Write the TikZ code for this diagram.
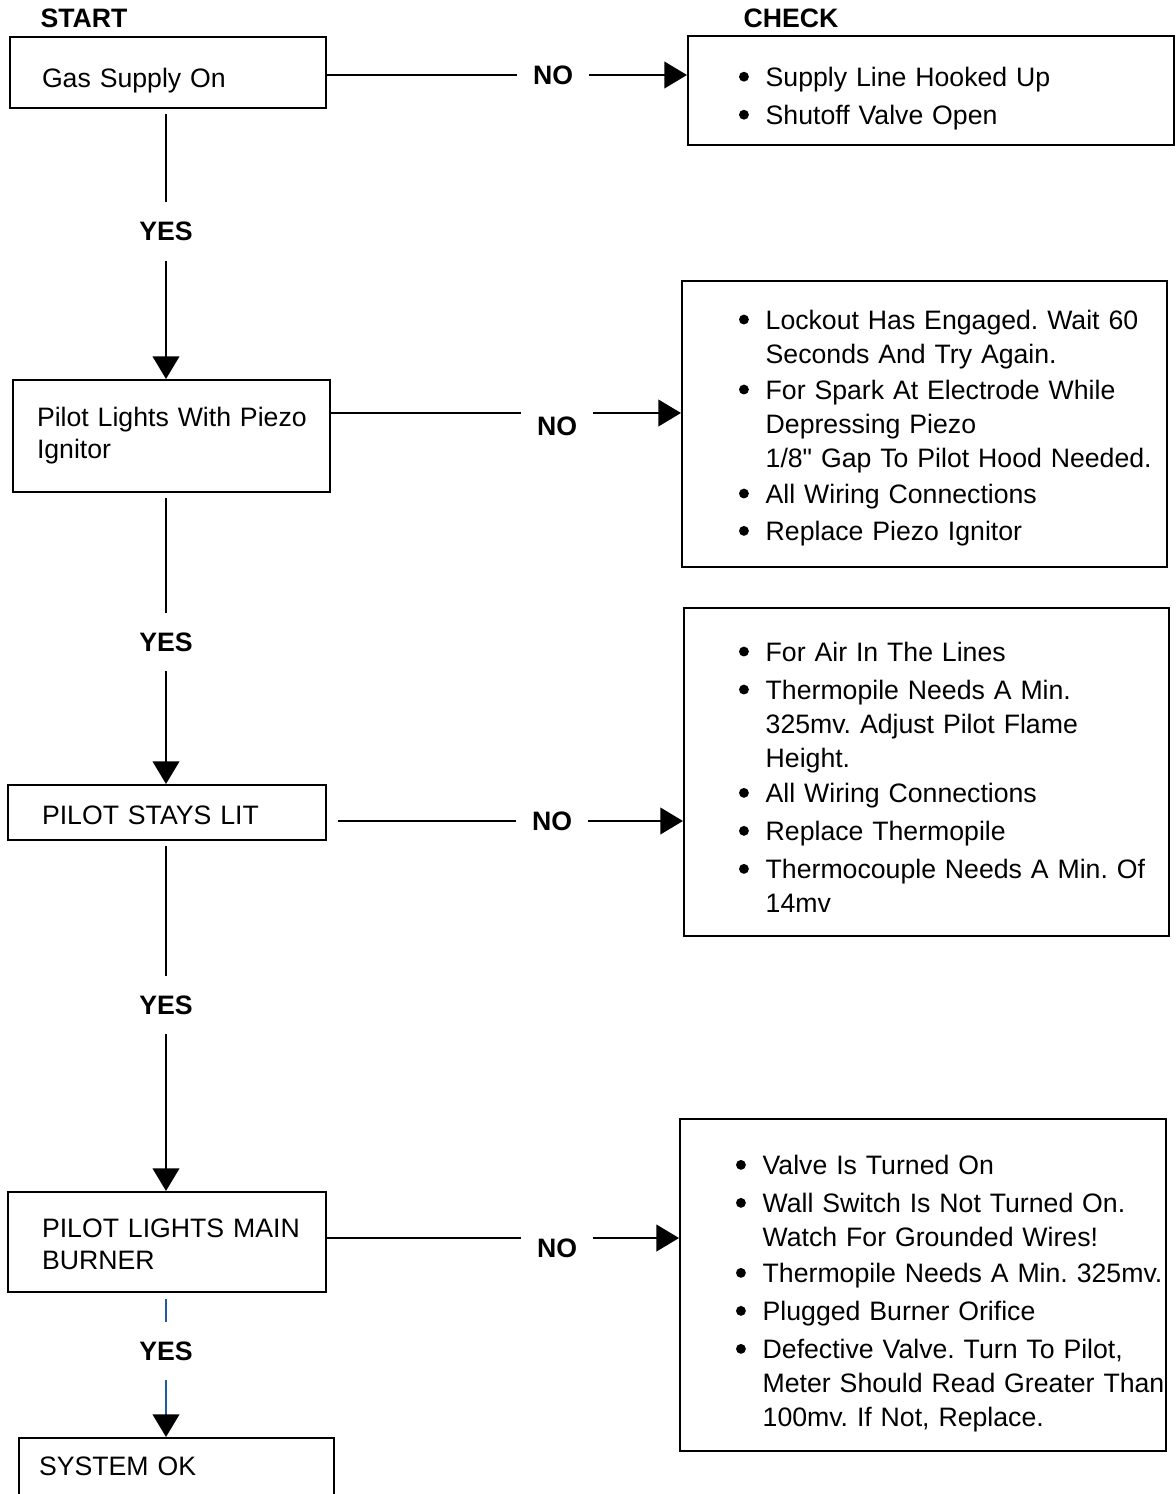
\documentclass[tikz,border=0pt]{standalone}
\usepackage{fontspec}
\setmainfont{Liberation Sans}[Ligatures=TeXOff]
\usepackage{array}
\usetikzlibrary{positioning,arrows.meta,calc}
\definecolor{black}{HTML}{000000}
\definecolor{wireblue}{HTML}{1F5AA6}
% text lowered inside its box, box size kept
\newcommand{\dropby}[2]{\raisebox{-#1}[\height][\depth]{#2}}
\newcommand{\dotmark}{\tikz[baseline=-7.2pt]\fill[black] (0,0) circle (3.7pt);}

\begin{document}
\frenchspacing
\begin{tikzpicture}[x=0.75pt, y=-0.75pt,
    font=\fontsize{20}{25.5}\selectfont,
    stepbox/.style={draw=black, line width=1.5pt, inner ysep=0pt, align=left,
      font=\fontsize{20}{24}\selectfont},
    checkbox/.style={draw=black, line width=1.5pt, inner ysep=0pt, align=left},
    heading/.style={font=\fontsize{20}{24}\selectfont\bfseries},
    answer/.style={font=\fontsize{20}{24}\selectfont\bfseries, inner xsep=12pt, inner ysep=14.5pt},
    wire/.style={black, line width=1.5pt},
    headarrow/.style={-{Triangle[length=17pt, width=20pt]}}]
        \useasboundingbox (0,0) rectangle (1176,1494);
        % Headings
        \node[heading] (start) at (84,18) {START};
        \node[heading] (check) at (791,18) {CHECK};
        % Steps on the left
        \node[stepbox, minimum height=53.25pt, text width=189pt, inner xsep=24pt]
          (gas) at (168,72.5) {\dropby{6pt}{Gas Supply On}};
        \node[stepbox, minimum height=84pt, text width=201.75pt, inner xsep=18pt]
          (pilot) at (171.5,436) {\begin{tabular}{@{}l@{}}
            Pilot Lights With Piezo\\Ignitor
          \end{tabular}};
        \node[stepbox, minimum height=41.25pt, text width=187.5pt, inner xsep=25.5pt]
          (stays) at (167,812.5) {\dropby{2pt}{PILOT STAYS LIT}};
        \node[stepbox, minimum height=75pt, text width=187.5pt, inner xsep=25.5pt]
          (mainb) at (167,1242) {\dropby{4pt}{\begin{tabular}{@{}l@{}}
            PILOT LIGHTS MAIN\\BURNER
          \end{tabular}}};
        \node[stepbox, minimum height=46.5pt, text width=206.25pt, inner xsep=15pt]
          (sysok) at (176.5,1469) {\dropby{-2pt}{SYSTEM OK}};
        % Checks on the right
        \node[checkbox, minimum height=81.75pt, text width=288pt, inner xsep=38.25pt]
          (chkA) at (931,90.5) {\dropby{6pt}{\begin{tabular}{@{}p{20pt}@{}l@{}}
            \dotmark & Supply Line Hooked Up\\[3pt]
            \dotmark & Shutoff Valve Open
          \end{tabular}}};
        \node[checkbox, minimum height=214.5pt, text width=278.25pt, inner xsep=42.75pt]
          (chkB) at (924.5,424) {\dropby{3pt}{\begin{tabular}{@{}p{20pt}@{}l@{}}
            \dotmark & Lockout Has Engaged. Wait 60\\
                     & Seconds And Try Again.\\[1.5pt]
            \dotmark & For Spark At Electrode While\\
                     & Depressing Piezo\\
                     & 1/8" Gap To Pilot Hood Needed.\\[1.5pt]
            \dotmark & All Wiring Connections\\[2.5pt]
            \dotmark & Replace Piezo Ignitor
          \end{tabular}}};
        \node[checkbox, minimum height=246pt, text width=281.25pt, inner xsep=41.25pt]
          (chkC) at (926.5,772) {\dropby{6pt}{\begin{tabular}{@{}p{20pt}@{}l@{}}
            \dotmark & For Air In The Lines\\[3pt]
            \dotmark & Thermopile Needs A Min.\\
                     & 325mv. Adjust Pilot Flame\\
                     & Height.\\[1pt]
            \dotmark & All Wiring Connections\\[3pt]
            \dotmark & Replace Thermopile\\[3pt]
            \dotmark & Thermocouple Needs A Min. Of\\
                     & 14mv
          \end{tabular}}};
        \node[checkbox, minimum height=249pt, text width=280.5pt, inner xsep=42pt]
          (chkD) at (923,1285) {\dropby{6.5pt}{\begin{tabular}{@{}p{20pt}@{}l@{}}
            \dotmark & Valve Is Turned On\\[3pt]
            \dotmark & Wall Switch Is Not Turned On.\\
                     & Watch For Grounded Wires!\\[1.5pt]
            \dotmark & Thermopile Needs A Min. 325mv.\\[3pt]
            \dotmark & Plugged Burner Orifice\\[3pt]
            \dotmark & Defective Valve. Turn To Pilot,\\
                     & Meter Should Read Greater Than\\
                     & 100mv. If Not, Replace.
          \end{tabular}}};
        % YES answers
        \node[answer] (yesA) at (166,231.5) {YES};
        \node[answer] (yesB) at (166,642) {YES};
        \node[answer] (yesC) at (166,1005) {YES};
        \node[answer] (yesD) at (166,1351) {YES};
        % NO answers
        \node[answer] (noA) at (553,75) {NO};
        \node[answer] (noB) at (557,426) {NO};
        \node[answer] (noC) at (552,821) {NO};
        \node[answer] (noD) at (557,1248) {NO};
        \coordinate (lnA) at (553,75);
        \coordinate (lnB) at (557,413);
        \coordinate (lnC) at (552,821);
        \coordinate (lnD) at (557,1238);
        % Down the left column
        \foreach \from/\ans/\to in {gas/yesA/pilot, pilot/yesB/stays, stays/yesC/mainb} {
          \draw[wire, shorten <=4pt] (\from.south -| \ans) -- (\ans.north);
          \draw[wire, headarrow] (\ans.south) -- (\to.north -| \ans);
        }
        \draw[wire, wireblue, shorten <=4.5pt] (mainb.south -| yesD) -- (yesD.north);
        \draw[wire, wireblue, -{Triangle[length=17pt, width=20pt, color=black]}]
          (yesD.south) -- (sysok.north -| yesD);
        % Across to the checks
        \draw[wire] (gas.east |- lnA) -- (noA.west |- lnA);
        \draw[wire, headarrow] (noA.east |- lnA) -- (chkA.west |- lnA);
        \draw[wire] (pilot.east |- lnB) -- (noB.west |- lnB);
        \draw[wire, headarrow] (noB.east |- lnB) -- (chkB.west |- lnB);
        \draw[wire, shorten <=8pt] (stays.east |- lnC) -- (noC.west |- lnC);
        \draw[wire, headarrow] (noC.east |- lnC) -- (chkC.west |- lnC);
        \draw[wire] (mainb.east |- lnD) -- (noD.west |- lnD);
        \draw[wire, headarrow] (noD.east |- lnD) -- (chkD.west |- lnD);
      \end{tikzpicture}
\end{document}
